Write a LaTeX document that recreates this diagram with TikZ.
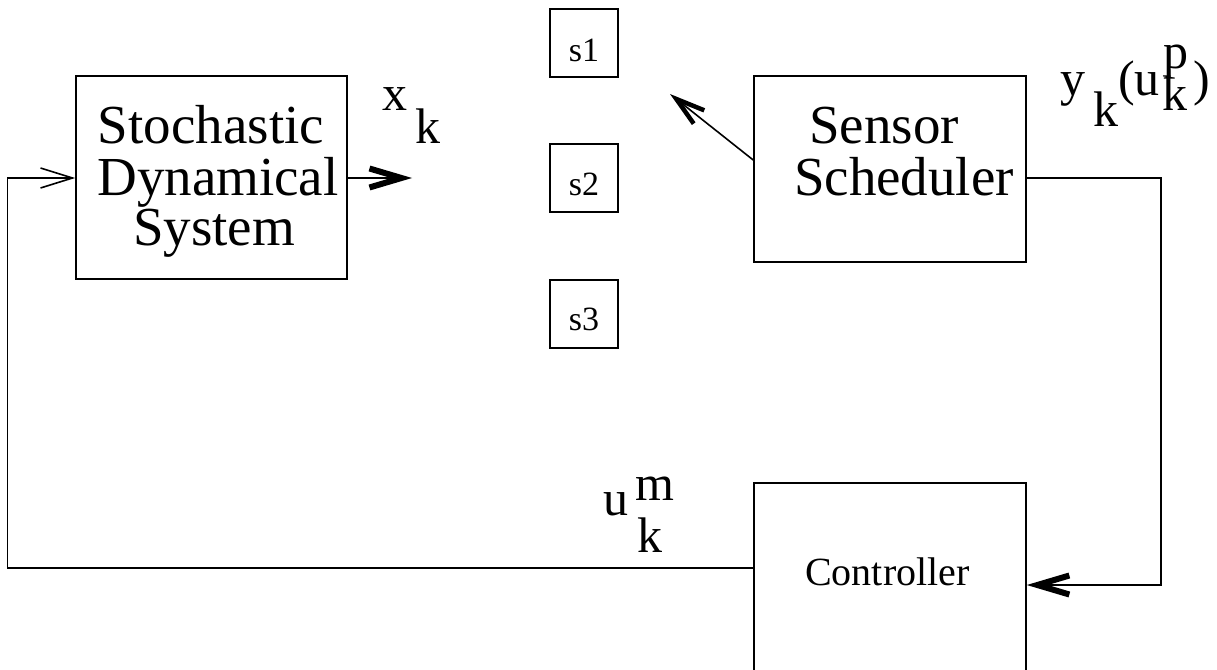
\documentclass[tikz,border=0pt]{standalone}
\usepackage{fontspec}
\usepackage{graphicx}
\setmainfont{Liberation Serif}
\newfontfamily\tmsfont{Liberation Serif}
\usetikzlibrary{arrows.meta}
\begin{document}
\begin{tikzpicture}[x=1pt,y=-1pt,
  blk/.style={draw,line width=1.6pt,inner sep=0pt},
  bigtxt/.style={inner sep=0pt,anchor=base,scale=1.375,font=\tmsfont\fontsize{40}{40}\selectfont},
  lbl/.style={inner sep=0pt,anchor=base west,scale=1.25,font=\tmsfont\fontsize{40}{40}\selectfont},
  stxt/.style={inner sep=0pt,anchor=base,font=\tmsfont\fontsize{34}{34}\selectfont},
  wire/.style={line width=1.6pt},
  thinhead/.style={-{Straight Barb[length=32pt,width=20pt,line width=1.6pt]}},
  thickhead/.style={-{Straight Barb[length=32pt,width=19pt,line width=6pt]}},
  midhead/.style={-{Straight Barb[length=29pt,width=17pt,line width=4.5pt]}}]
\useasboundingbox (0,0) rectangle (1217,669);
% blocks
\node[blk,minimum width=271pt,minimum height=203pt] (sds) at (211.5,177.5) {};
\node[bigtxt] (sds1) at (211,143) {Stochastic};
\node[bigtxt] (sds2) at (218,195) {Dynamical};
\node[bigtxt] (sds3) at (214,245) {System};
\node[blk,minimum width=68pt,minimum height=68pt] (s1) at (584,43) {};
\node[blk,minimum width=68pt,minimum height=68pt] (s2) at (584,178) {};
\node[blk,minimum width=68pt,minimum height=68pt] (s3) at (584,314) {};
\node[stxt] (s1t) at (584,61) {s1};
\node[stxt] (s2t) at (584,195) {s2};
\node[stxt] (s3t) at (584,330) {s3};
\node[blk,minimum width=272pt,minimum height=186pt] (ss) at (890,169) {};
\node[bigtxt] (ss1) at (884,143) {Sensor};
\node[bigtxt] (ss2) at (904,195) {Scheduler};
\node[blk,minimum width=272pt,minimum height=210pt] (ctrl) at (890,588) {};
\node[inner sep=0pt,anchor=base,font=\tmsfont\fontsize{40}{40}\selectfont] (ctrlt) at (887.5,585) {Controller};
% labels
\node[lbl] (xl) at (382,110) {x};
\node[lbl] (xk) at (415,143) {k};
\node[lbl] (yl) at (1060,95) {y};
\node[lbl] (yk) at (1093,126) {k};
\node[lbl] (yu) at (1118,95) {(u};
\node[lbl] (yk2) at (1162,110) {k};
\node[lbl] (yp) at (1163,68) {p};
\node[lbl] (yr) at (1193,95) {)};
\node[lbl] (ul) at (603,515) {u};
\node[lbl] (um) at (635,500) {m};
\node[lbl] (uk) at (637,552) {k};
% coordinates
\coordinate (xend) at (412,178);
\coordinate (sarr) at (670,94);
\coordinate (c1) at (7.5,568);
\coordinate (c2) at (7.5,178);
\coordinate (r1) at (1161,178);
\coordinate (r2) at (1161,585);
% connectors
\draw[wire,thickhead] (sds.east |- xend) -- (xend);
\draw[wire,thinhead] (ctrl.west |- c1) -- (c1) -- (c2) -- (sds.west |- c2);
\draw[wire,midhead] ([yshift=9pt]ss.west) -- (sarr);
\draw[wire,thickhead] (ss.east |- r1) -- (r1) -- (r2) -- (ctrl.east |- r2);
\end{tikzpicture}
\end{document}
